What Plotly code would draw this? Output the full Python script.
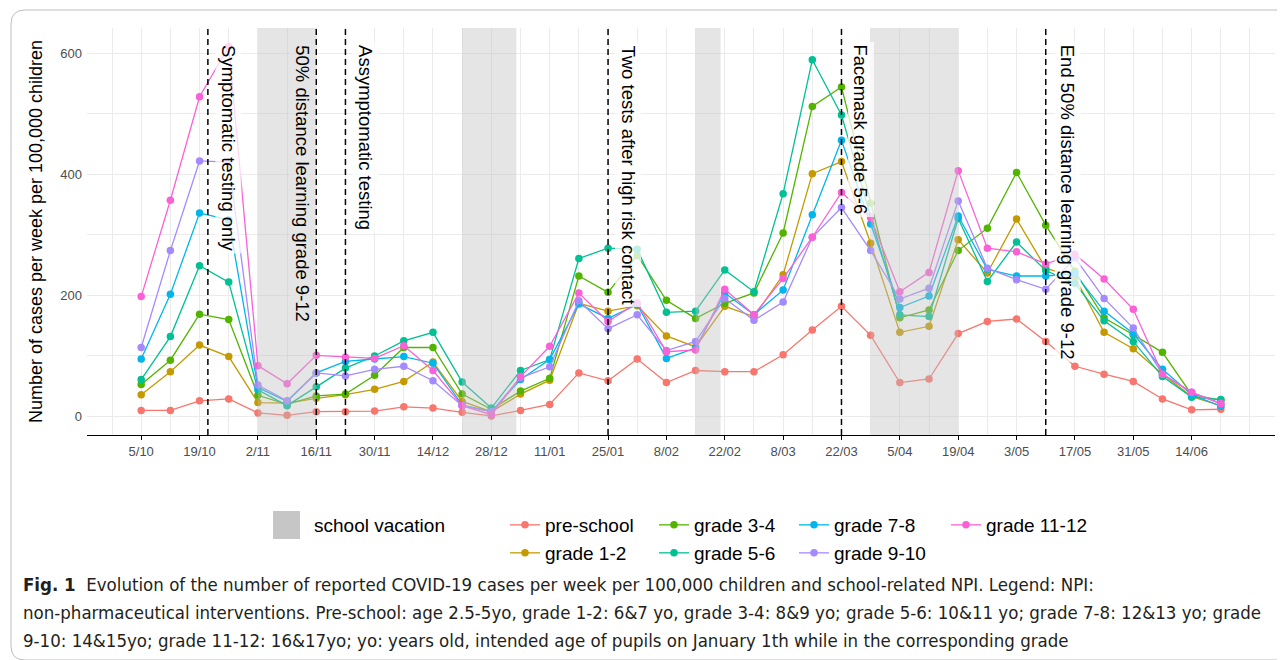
import plotly.graph_objects as go

# ---------------- data ----------------
weeks = ["2020-10-05", "2020-10-12", "2020-10-19", "2020-10-26", "2020-11-02", "2020-11-09",
         "2020-11-16", "2020-11-23", "2020-11-30", "2020-12-07", "2020-12-14", "2020-12-21",
         "2020-12-28", "2021-01-04", "2021-01-11", "2021-01-18", "2021-01-25", "2021-02-01",
         "2021-02-08", "2021-02-15", "2021-02-22", "2021-03-01", "2021-03-08", "2021-03-15",
         "2021-03-22", "2021-03-29", "2021-04-05", "2021-04-12", "2021-04-19", "2021-04-26",
         "2021-05-03", "2021-05-10", "2021-05-17", "2021-05-24", "2021-05-31", "2021-06-07",
         "2021-06-14", "2021-06-21"]

pre_school = [10, 10, 26, 29, 6, 2, 8, 8, 9, 16, 14, 7, 1, 10, 20, 72, 59, 95, 56, 76, 74, 74, 102,
              143, 182, 134, 56, 62, 137, 157, 161, 124, 83, 70, 58, 29, 11, 12]
grade_1_2 = [36, 74, 118, 99, 23, 22, 30, 36, 45, 58, 90, 25, 8, 37, 60, 187, 174, 183, 133, 115,
             182, 165, 234, 401, 421, 286, 139, 149, 292, 237, 326, 245, 230, 139, 112, 70, 33, 18]
grade_3_4 = [53, 93, 169, 160, 35, 20, 34, 37, 68, 114, 114, 37, 12, 42, 63, 232, 205, 266, 192, 162,
             187, 204, 303, 512, 544, 352, 163, 176, 274, 311, 403, 316, 240, 163, 135, 106, 36, 27]
grade_5_6 = [61, 132, 249, 222, 44, 18, 49, 80, 100, 125, 139, 57, 14, 76, 94, 261, 278, 276, 172, 174,
             242, 206, 368, 589, 498, 330, 168, 165, 327, 223, 288, 241, 220, 158, 124, 66, 32, 28]
grade_7_8 = [95, 202, 336, 325, 48, 25, 72, 91, 95, 99, 88, 19, 8, 61, 94, 186, 162, 185, 96, 113,
             204, 168, 209, 333, 456, 318, 180, 199, 331, 243, 232, 232, 236, 174, 137, 78, 36, 17]
grade_9_10 = [114, 274, 422, 420, 52, 26, 72, 67, 78, 83, 59, 18, 8, 64, 82, 191, 145, 168, 109, 124,
              195, 159, 189, 296, 345, 274, 194, 212, 356, 245, 226, 210, 262, 195, 146, 70, 40, 22]
grade_11_12 = [198, 357, 528, 611, 84, 54, 101, 98, 96, 117, 76, 18, 3, 66, 116, 204, 157, 188, 107, 110,
               210, 168, 228, 296, 370, 328, 206, 238, 406, 278, 272, 252, 268, 227, 177, 70, 40, 21]

series_names = ["pre-school", "grade 1-2", "grade 3-4", "grade 5-6", "grade 7-8", "grade 9-10", "grade 11-12"]
series_values = [pre_school, grade_1_2, grade_3_4, grade_5_6, grade_7_8, grade_9_10, grade_11_12]
series_colors = ["#F8766D", "#C49A00", "#53B400", "#00C094", "#00B6EB", "#A58AFF", "#FB61D7"]

tick_dates = ["2020-10-05", "2020-10-19", "2020-11-02", "2020-11-16", "2020-11-30", "2020-12-14",
              "2020-12-28", "2021-01-11", "2021-01-25", "2021-02-08", "2021-02-22", "2021-03-08",
              "2021-03-22", "2021-04-05", "2021-04-19", "2021-05-03", "2021-05-17", "2021-05-31",
              "2021-06-14"]
tick_labels = ["5/10", "19/10", "2/11", "16/11", "30/11", "14/12", "28/12", "11/01", "25/01", "8/02",
               "22/02", "8/03", "22/03", "5/04", "19/04", "3/05", "17/05", "31/05", "14/06"]
minor_dates = ["2020-09-28", "2020-10-12", "2020-10-26", "2020-11-09", "2020-11-23", "2020-12-07",
               "2020-12-21", "2021-01-04", "2021-01-18", "2021-02-01", "2021-02-15", "2021-03-01",
               "2021-03-15", "2021-03-29", "2021-04-12", "2021-04-26", "2021-05-10", "2021-05-24",
               "2021-06-07", "2021-06-21", "2021-06-28"]

vacation_start = ["2020-11-02", "2020-12-21", "2021-02-15", "2021-03-29"]
vacation_end = ["2020-11-16", "2021-01-03", "2021-02-21", "2021-04-19"]

npi_dates = ["2020-10-21", "2020-11-16", "2020-11-23", "2021-01-25", "2021-03-22", "2021-05-10"]
npi_labels = ["Symptomatic testing only", "50% distance learning grade 9-12", "Assymptomatic testing",
              "Two tests after high risk contact", "Facemask grade 5-6", "End 50% distance learning grade 9-12"]
npi_label_shift = [20, -14, 20, 20, 19, 22]
npi_label_bg = ["rgba(255,255,255,0.75)", "rgba(229,229,229,0.6)", "rgba(255,255,255,0.75)",
                "rgba(255,255,255,0.75)", "rgba(255,255,255,0.75)", "rgba(255,255,255,0.75)"]

caption_lines = [
    "<b>Fig. 1</b>  Evolution of the number of reported COVID-19 cases per week per 100,000 children and school-related NPI. Legend: NPI:",
    "non-pharmaceutical interventions. Pre-school: age 2.5-5yo, grade 1-2: 6&7 yo, grade 3-4: 8&9 yo; grade 5-6: 10&11 yo; grade 7-8: 12&13 yo; grade",
    "9-10: 14&15yo; grade 11-12: 16&17yo; yo: years old, intended age of pupils on January 1th while in the corresponding grade",
]

# ---------------- geometry (reference-pixel coordinates) ----------------
OFF = 8                      # page body margin
W, H = 1285 - OFF, 660 - OFF
L, R, T, B = 87, 1275, 28, 435   # plot panel in reference pixels


def px(xpix):
    return (xpix - L) / (R - L)


def py(ypix):
    return (B - ypix) / (B - T)


FONT = "Liberation Sans, Arial, sans-serif"
CAPFONT = "DejaVu Sans Condensed, Liberation Sans, sans-serif"

fig = go.Figure()

legend_pos = [(505, 525), (505, 553), (654, 525), (654, 553), (794, 525), (794, 553), (946, 525)]
legend_keys = ["legend", "legend2", "legend3", "legend4", "legend5", "legend6", "legend7"]

for name, vals, col, lk in zip(series_names, series_values, series_colors, legend_keys):
    fig.add_trace(go.Scatter(
        x=weeks, y=vals, name=name, mode="lines+markers",
        line=dict(color=col, width=1.3),
        marker=dict(color=col, size=7.5),
        legend=lk, showlegend=True,
    ))

shapes = []
for s, e in zip(vacation_start, vacation_end):
    shapes.append(dict(type="rect", xref="x", yref="paper", x0=s, x1=e, y0=0, y1=1,
                       fillcolor="rgba(190,190,190,0.4)", line=dict(width=0), layer="above"))
for d in npi_dates:
    shapes.append(dict(type="line", xref="x", yref="paper", x0=d, x1=d, y0=0, y1=1,
                       line=dict(color="black", width=1.5, dash="6px,4px"), layer="above"))
shapes.append(dict(type="rect", xref="paper", yref="paper", x0=px(273), x1=px(300), y0=py(539), y1=py(511),
                   fillcolor="#C6C6C6", line=dict(width=0)))
frame = (f"M {px(1300)},{py(10)} L {px(25)},{py(10)} Q {px(11)},{py(10)} {px(11)},{py(24)} "
         f"L {px(11)},{py(646)} Q {px(11)},{py(660)} {px(25)},{py(660)} L {px(1300)},{py(660)}")
shapes.append(dict(type="path", xref="paper", yref="paper", path=frame,
                   line=dict(color="#BDBDBD", width=1)))

annotations = []
for d, lab, sh, bg in zip(npi_dates, npi_labels, npi_label_shift, npi_label_bg):
    annotations.append(dict(x=d, xref="x", y=py(42), yref="paper", text=lab, textangle=90,
                            showarrow=False, xanchor="center", yanchor="top", xshift=sh,
                            font=dict(family=FONT, size=18.5, color="black"),
                            bgcolor=bg, borderpad=2))
annotations.append(dict(x=px(312), y=py(525), xref="paper", yref="paper", text="school vacation",
                        showarrow=False, xanchor="left", yanchor="middle",
                        font=dict(family=FONT, size=19, color="black")))
for line, yy in zip(caption_lines, [584, 612, 640]):
    annotations.append(dict(x=px(21), y=py(yy), xref="paper", yref="paper", text=line,
                            showarrow=False, xanchor="left", yanchor="middle", align="left",
                            font=dict(family=CAPFONT, size=18.5, color="#231F20")))

layout_legends = {}
for lk, (lx, ly) in zip(legend_keys, legend_pos):
    layout_legends[lk] = dict(x=px(lx), y=py(ly), xanchor="left", yanchor="middle",
                              orientation="v", bgcolor="rgba(0,0,0,0)",
                              font=dict(family=FONT, size=19, color="black"))

fig.update_layout(
    width=W, height=H,
    margin=dict(l=L - OFF, r=W - (R - OFF), t=T - OFF, b=H - (B - OFF), autoexpand=False),
    paper_bgcolor="white", plot_bgcolor="white",
    shapes=shapes, annotations=annotations,
    **layout_legends,
    xaxis=dict(type="date", range=["2020-09-22", "2021-07-04"],
               tickmode="array", tickvals=tick_dates, ticktext=tick_labels,
               showgrid=True, gridcolor="#EBEBEB", gridwidth=1.1,
               minor=dict(tickmode="array", tickvals=minor_dates, showgrid=True,
                          gridcolor="#EBEBEB", gridwidth=0.6, ticks=""),
               showline=True, linecolor="black", linewidth=1,
               ticks="outside", ticklen=4, tickcolor="black", tickwidth=1,
               tickfont=dict(family=FONT, size=13, color="#4D4D4D"),
               zeroline=False, automargin=False),
    yaxis=dict(range=[-30.5, 641.5], tickmode="array", tickvals=[0, 200, 400, 600],
               showgrid=True, gridcolor="#EBEBEB", gridwidth=1.1,
               minor=dict(tickmode="array", tickvals=[100, 300, 500], showgrid=True,
                          gridcolor="#EBEBEB", gridwidth=0.6, ticks=""),
               showline=False, ticks="", zeroline=False, ticklabelstandoff=4,
               tickfont=dict(family=FONT, size=13, color="#4D4D4D"),
               title=dict(text="Number of cases per week per 100,000 children",
                          font=dict(family=FONT, size=18, color="black"), standoff=12),
               automargin=False),
)

fig.write_html("out.html")
